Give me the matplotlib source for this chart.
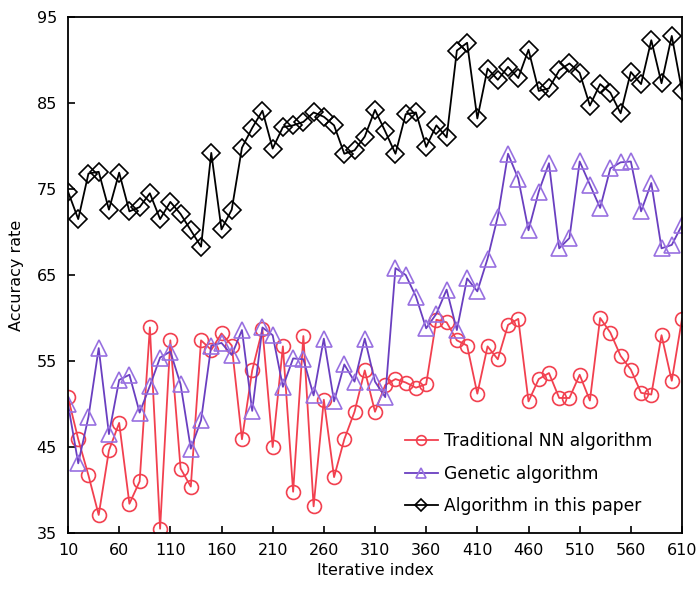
import matplotlib
matplotlib.use("Agg")
import matplotlib.pyplot as plt
import numpy as np

iterations = list(range(10, 620, 10))

traditional_nn = [50.8, 45.9, 41.7, 37.1, 44.6, 47.8, 38.4, 41.0, 58.9, 35.5,
                  57.4, 42.5, 40.4, 57.4, 56.3, 58.2, 56.8, 45.9, 53.9, 58.7,
                  45.0, 56.7, 39.8, 57.9, 38.1, 50.5, 41.5, 45.9, 49.1, 53.9,
                  49.1, 52.2, 52.9, 52.5, 51.9, 52.3, 59.8, 59.5, 57.4, 56.8,
                  51.2, 56.7, 55.2, 59.2, 59.9, 50.3, 52.9, 53.6, 50.7, 50.7,
                  53.4, 50.4, 60.0, 58.3, 55.6, 54.0, 51.3, 51.1, 58.0, 52.7,
                  59.9]

genetic = [50.0, 43.1, 48.5, 56.5, 46.5, 52.8, 53.4, 49.0, 52.1, 55.4,
           56.1, 52.3, 44.8, 48.1, 56.8, 57.1, 55.7, 58.6, 49.2, 58.9,
           58.0, 52.0, 55.3, 55.2, 51.0, 57.6, 50.3, 54.6, 52.6, 57.6,
           52.6, 50.8, 65.8, 65.0, 62.5, 58.8, 60.5, 63.3, 58.6, 64.6,
           63.1, 66.9, 71.8, 79.1, 76.2, 70.2, 74.7, 78.0, 68.1, 69.3,
           78.2, 75.5, 72.8, 77.4, 78.1, 78.2, 72.4, 75.7, 68.1, 68.5,
           70.8]

this_paper = [74.7, 71.5, 76.8, 77.0, 72.6, 76.9, 72.4, 72.9, 74.5, 71.5,
              73.5, 72.1, 70.2, 68.3, 79.2, 70.3, 72.6, 79.8, 82.1, 84.1,
              79.7, 82.2, 82.4, 82.8, 83.9, 83.4, 82.4, 79.1, 79.5, 81.1,
              84.2, 81.7, 79.1, 83.7, 83.9, 79.9, 82.4, 81.0, 91.1, 92.0,
              83.2, 89.0, 87.7, 89.2, 87.9, 91.2, 86.4, 86.7, 88.8, 89.6,
              88.5, 84.7, 87.2, 86.2, 83.8, 88.6, 87.2, 92.3, 87.3, 92.8,
              86.4]

series_labels = ["Traditional NN algorithm", "Genetic algorithm", "Algorithm in this paper"]
x_ticks = list(range(10, 620, 50))
y_ticks = list(range(35, 100, 10))

plt.rcParams['font.family'] = ['DejaVu Sans']

fig = plt.figure(figsize=(7.0, 5.92), dpi=100)
ax = fig.add_axes([68/700, 59/592, 614/700, 516/592])

ax.plot(iterations, traditional_nn, color='#f2404f', lw=1.3, marker='o',
        markersize=10, markerfacecolor='none', markeredgecolor='#f2404f',
        markeredgewidth=1.2, label=series_labels[0])
ax.plot(iterations, genetic, color='#6a3fc0', lw=1.3, marker='^',
        markersize=11, markerfacecolor='none', markeredgecolor='#9870e0',
        markeredgewidth=1.2, label=series_labels[1])
ax.plot(iterations, this_paper, color='black', lw=1.3, marker='D',
        markersize=9, markerfacecolor='none', markeredgecolor='black',
        markeredgewidth=1.2, label=series_labels[2])

ax.set_xlim(10, 610)
ax.set_ylim(35, 95)
ax.set_xticks(x_ticks)
ax.set_yticks(y_ticks)
ax.tick_params(axis='both', direction='in', length=5, width=1.2, labelsize=11.5,
               top=False, right=False)
ax.tick_params(axis='y', pad=8)
ax.tick_params(axis='x', pad=7)
for s in ax.spines.values():
    s.set_linewidth(1.3)

ax.set_xlabel("Iterative index", fontsize=11.5, labelpad=4)
ax.set_ylabel("Accuracy rate", fontsize=11.5, labelpad=9)

ax.legend(loc='upper left', bbox_to_anchor=(0.549, 0.195), frameon=False,
          fontsize=12.3, handlelength=1.9, labelspacing=0.85, handletextpad=0.35,
          borderpad=0, borderaxespad=0, markerscale=0.7)

fig.savefig("out.png", dpi=100)
